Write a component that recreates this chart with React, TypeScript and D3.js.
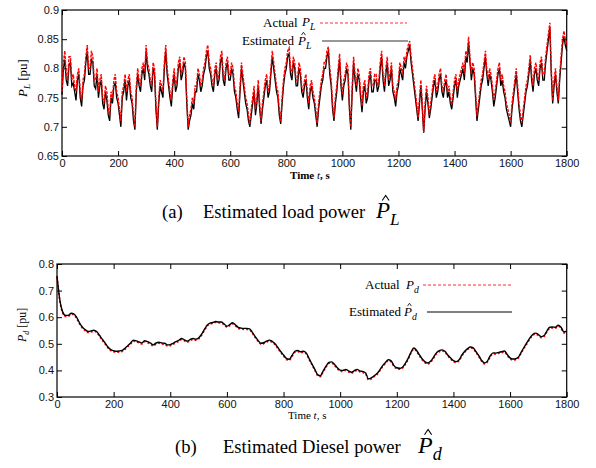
import React, { useRef, useEffect } from 'react';
import * as d3 from 'd3';

// load power, actual P_L, one sample every 5 s (0..1800), 20 samples per row
const loadActual = [
  0.76, 0.81, 0.83, 0.79, 0.78, 0.82, 0.82, 0.78, 0.79, 0.77, 0.76, 0.79, 0.80, 0.76, 0.745, 0.78, 0.79, 0.82, 0.84, 0.80,
  0.80, 0.83, 0.82, 0.78, 0.78, 0.80, 0.76, 0.78, 0.79, 0.75, 0.74, 0.77, 0.76, 0.73, 0.72, 0.76, 0.75, 0.78, 0.79, 0.76,
  0.75, 0.73, 0.71, 0.76, 0.77, 0.79, 0.76, 0.78, 0.79, 0.76, 0.75, 0.72, 0.70, 0.77, 0.80, 0.78, 0.77, 0.80, 0.81, 0.79,
  0.84, 0.81, 0.80, 0.78, 0.77, 0.81, 0.80, 0.74, 0.70, 0.75, 0.78, 0.77, 0.76, 0.81, 0.84, 0.80, 0.78, 0.76, 0.745, 0.78,
  0.80, 0.77, 0.78, 0.81, 0.82, 0.79, 0.80, 0.82, 0.81, 0.75, 0.70, 0.72, 0.73, 0.75, 0.74, 0.77, 0.77, 0.80, 0.79, 0.77,
  0.78, 0.80, 0.81, 0.83, 0.84, 0.81, 0.80, 0.78, 0.77, 0.80, 0.81, 0.78, 0.79, 0.82, 0.83, 0.79, 0.78, 0.81, 0.82, 0.79,
  0.79, 0.81, 0.80, 0.77, 0.76, 0.74, 0.725, 0.77, 0.81, 0.79, 0.77, 0.75, 0.74, 0.72, 0.705, 0.73, 0.75, 0.77, 0.73, 0.75,
  0.78, 0.74, 0.71, 0.74, 0.76, 0.78, 0.79, 0.76, 0.77, 0.80, 0.83, 0.81, 0.79, 0.77, 0.76, 0.73, 0.71, 0.75, 0.78, 0.80,
  0.81, 0.83, 0.835, 0.80, 0.79, 0.82, 0.81, 0.78, 0.78, 0.81, 0.80, 0.77, 0.76, 0.78, 0.79, 0.76, 0.74, 0.77, 0.78, 0.76,
  0.75, 0.73, 0.706, 0.74, 0.76, 0.78, 0.79, 0.81, 0.81, 0.83, 0.837, 0.80, 0.78, 0.74, 0.715, 0.75, 0.77, 0.80, 0.825, 0.78,
  0.755, 0.78, 0.79, 0.81, 0.80, 0.74, 0.70, 0.77, 0.82, 0.79, 0.77, 0.80, 0.79, 0.76, 0.735, 0.77, 0.78, 0.75, 0.76, 0.79,
  0.80, 0.77, 0.77, 0.79, 0.79, 0.77, 0.78, 0.81, 0.83, 0.79, 0.77, 0.80, 0.82, 0.78, 0.79, 0.81, 0.77, 0.76, 0.745, 0.77,
  0.78, 0.81, 0.80, 0.79, 0.82, 0.81, 0.83, 0.84, 0.847, 0.82, 0.80, 0.78, 0.76, 0.74, 0.715, 0.75, 0.78, 0.74, 0.691, 0.74,
  0.77, 0.75, 0.72, 0.74, 0.76, 0.78, 0.79, 0.76, 0.77, 0.79, 0.80, 0.77, 0.76, 0.78, 0.79, 0.76, 0.77, 0.75, 0.738, 0.76,
  0.78, 0.79, 0.76, 0.78, 0.79, 0.80, 0.81, 0.79, 0.83, 0.82, 0.854, 0.82, 0.79, 0.81, 0.80, 0.76, 0.718, 0.74, 0.76, 0.78,
  0.79, 0.81, 0.83, 0.80, 0.78, 0.80, 0.79, 0.77, 0.745, 0.76, 0.78, 0.80, 0.81, 0.78, 0.79, 0.77, 0.76, 0.74, 0.73, 0.72,
  0.707, 0.74, 0.76, 0.78, 0.80, 0.77, 0.74, 0.72, 0.707, 0.73, 0.75, 0.77, 0.78, 0.80, 0.823, 0.79, 0.77, 0.80, 0.81, 0.79,
  0.78, 0.81, 0.82, 0.79, 0.79, 0.82, 0.84, 0.86, 0.878, 0.80, 0.745, 0.78, 0.80, 0.77, 0.745, 0.79, 0.82, 0.85, 0.864, 0.85,
  0.84
];

// load power, estimated, one sample every 5 s (0..1800)
const loadEstimated = [
  0.755, 0.80, 0.815, 0.78, 0.77, 0.805, 0.81, 0.77, 0.775, 0.76, 0.745, 0.78, 0.79, 0.75, 0.735, 0.77, 0.78, 0.81, 0.83, 0.79,
  0.79, 0.815, 0.81, 0.77, 0.765, 0.79, 0.75, 0.77, 0.78, 0.74, 0.73, 0.76, 0.745, 0.72, 0.71, 0.75, 0.74, 0.77, 0.775, 0.75,
  0.74, 0.72, 0.70, 0.75, 0.76, 0.78, 0.745, 0.77, 0.78, 0.75, 0.74, 0.71, 0.695, 0.76, 0.79, 0.77, 0.76, 0.79, 0.80, 0.78,
  0.83, 0.80, 0.79, 0.77, 0.76, 0.80, 0.79, 0.73, 0.695, 0.74, 0.77, 0.76, 0.75, 0.80, 0.83, 0.79, 0.77, 0.75, 0.735, 0.77,
  0.79, 0.76, 0.77, 0.80, 0.81, 0.78, 0.79, 0.81, 0.80, 0.74, 0.695, 0.71, 0.72, 0.74, 0.73, 0.76, 0.76, 0.79, 0.78, 0.76,
  0.77, 0.79, 0.80, 0.82, 0.83, 0.80, 0.79, 0.77, 0.76, 0.79, 0.80, 0.77, 0.78, 0.81, 0.82, 0.78, 0.77, 0.80, 0.81, 0.78,
  0.78, 0.80, 0.79, 0.76, 0.75, 0.73, 0.715, 0.76, 0.80, 0.78, 0.76, 0.74, 0.73, 0.71, 0.70, 0.72, 0.74, 0.76, 0.72, 0.74,
  0.77, 0.73, 0.705, 0.73, 0.75, 0.77, 0.78, 0.75, 0.76, 0.79, 0.82, 0.80, 0.78, 0.76, 0.75, 0.72, 0.705, 0.74, 0.77, 0.79,
  0.80, 0.82, 0.825, 0.79, 0.78, 0.81, 0.80, 0.77, 0.77, 0.80, 0.79, 0.76, 0.75, 0.77, 0.78, 0.75, 0.73, 0.76, 0.77, 0.75,
  0.74, 0.72, 0.70, 0.73, 0.75, 0.77, 0.78, 0.80, 0.80, 0.82, 0.83, 0.79, 0.77, 0.73, 0.71, 0.74, 0.76, 0.79, 0.815, 0.77,
  0.745, 0.77, 0.78, 0.80, 0.79, 0.73, 0.695, 0.76, 0.81, 0.78, 0.76, 0.79, 0.78, 0.75, 0.725, 0.76, 0.77, 0.74, 0.75, 0.78,
  0.79, 0.76, 0.76, 0.78, 0.78, 0.76, 0.77, 0.80, 0.82, 0.78, 0.76, 0.79, 0.81, 0.77, 0.78, 0.80, 0.76, 0.75, 0.735, 0.76,
  0.77, 0.80, 0.79, 0.78, 0.81, 0.80, 0.82, 0.83, 0.84, 0.81, 0.79, 0.77, 0.75, 0.73, 0.71, 0.74, 0.77, 0.73, 0.69, 0.73,
  0.76, 0.74, 0.715, 0.73, 0.75, 0.77, 0.78, 0.75, 0.76, 0.78, 0.79, 0.76, 0.75, 0.77, 0.78, 0.75, 0.76, 0.74, 0.73, 0.75,
  0.77, 0.78, 0.75, 0.77, 0.78, 0.79, 0.80, 0.78, 0.82, 0.81, 0.845, 0.81, 0.78, 0.80, 0.79, 0.75, 0.71, 0.73, 0.75, 0.77,
  0.78, 0.80, 0.82, 0.79, 0.77, 0.79, 0.78, 0.76, 0.735, 0.75, 0.77, 0.79, 0.80, 0.77, 0.78, 0.76, 0.75, 0.73, 0.72, 0.71,
  0.70, 0.73, 0.75, 0.77, 0.79, 0.76, 0.73, 0.71, 0.70, 0.72, 0.74, 0.76, 0.77, 0.79, 0.815, 0.78, 0.76, 0.79, 0.80, 0.78,
  0.77, 0.80, 0.81, 0.78, 0.78, 0.81, 0.83, 0.85, 0.87, 0.79, 0.74, 0.77, 0.79, 0.76, 0.74, 0.78, 0.81, 0.84, 0.855, 0.84,
  0.83
];

// diesel power P_d, one sample every 10 s (0..1800)
const dieselPower = [
  0.755, 0.665, 0.62, 0.607, 0.607, 0.615, 0.612, 0.598, 0.578, 0.562,
  0.553, 0.546, 0.548, 0.551, 0.546, 0.532, 0.517, 0.503, 0.488, 0.478,
  0.474, 0.472, 0.473, 0.475, 0.483, 0.493, 0.503, 0.514, 0.511, 0.507,
  0.503, 0.512, 0.508, 0.503, 0.496, 0.503, 0.506, 0.503, 0.502, 0.496,
  0.497, 0.502, 0.508, 0.513, 0.52, 0.515, 0.51, 0.516, 0.52, 0.517,
  0.522, 0.535, 0.553, 0.57, 0.578, 0.58, 0.584, 0.582, 0.582, 0.575,
  0.566, 0.572, 0.579, 0.571, 0.562, 0.559, 0.558, 0.558, 0.556, 0.543,
  0.527, 0.513, 0.502, 0.504, 0.51, 0.514, 0.509, 0.5, 0.486, 0.471,
  0.458, 0.445, 0.442, 0.456, 0.472, 0.475, 0.47, 0.472, 0.466, 0.445,
  0.425, 0.405, 0.385, 0.38, 0.398, 0.416, 0.43, 0.432, 0.422, 0.41,
  0.401, 0.4, 0.404, 0.398, 0.393, 0.399, 0.404, 0.398, 0.396, 0.39,
  0.368, 0.372, 0.38, 0.388, 0.402, 0.418, 0.43, 0.44, 0.436, 0.418,
  0.41, 0.408, 0.412, 0.426, 0.445, 0.468, 0.484, 0.475, 0.458, 0.443,
  0.432, 0.428, 0.435, 0.45, 0.466, 0.474, 0.477, 0.472, 0.458, 0.447,
  0.437, 0.433, 0.44, 0.458, 0.472, 0.482, 0.488, 0.485, 0.47, 0.455,
  0.437, 0.428, 0.435, 0.455, 0.466, 0.465, 0.468, 0.47, 0.473, 0.46,
  0.447, 0.443, 0.444, 0.451, 0.47, 0.488, 0.505, 0.522, 0.535, 0.54,
  0.535, 0.527, 0.531, 0.548, 0.562, 0.563, 0.562, 0.57, 0.562, 0.545,
  0.548
];

const timeTicks = [0, 200, 400, 600, 800, 1000, 1200, 1400, 1600, 1800];
const loadTicks = [0.65, 0.7, 0.75, 0.8, 0.85, 0.9];
const dieselTicks = [0.3, 0.4, 0.5, 0.6, 0.7, 0.8];

const SERIF = '"Liberation Serif", "Times New Roman", serif';
const SANS = '"Liberation Sans", Arial, sans-serif';

type Panel = {
  left: number; right: number; top: number; bottom: number;
  yDomain: [number, number]; yTicks: number[]; tickFmt: (d: number) => string;
};

function drawFrame(g: any, p: Panel) {
  const x = d3.scaleLinear().domain([0, 1800]).range([p.left, p.right]);
  const y = d3.scaleLinear().domain(p.yDomain).range([p.bottom, p.top]);
  const tk = 5;

  // labelled left / bottom axes, plain inward ticks on the right / top
  g.append('g')
    .attr('transform', `translate(${p.left},0)`)
    .call(d3.axisLeft(y).tickValues(p.yTicks).tickSize(-tk).tickPadding(3).tickFormat(p.tickFmt as any))
    .call((s: any) => s.select('.domain').remove())
    .selectAll('text').attr('font-family', SANS).attr('font-size', 11).attr('fill', '#111');
  g.append('g')
    .attr('transform', `translate(${p.right},0)`)
    .call(d3.axisRight(y).tickValues(p.yTicks).tickSize(-tk).tickFormat(() => ''))
    .call((s: any) => s.select('.domain').remove());
  g.append('g')
    .attr('transform', `translate(0,${p.bottom})`)
    .call(d3.axisBottom(x).tickValues(timeTicks).tickSize(-tk).tickPadding(3).tickFormat(d3.format('d') as any))
    .call((s: any) => s.select('.domain').remove())
    .selectAll('text').attr('font-family', SANS).attr('font-size', 11).attr('fill', '#111');
  g.append('g')
    .attr('transform', `translate(0,${p.top})`)
    .call(d3.axisTop(x).tickValues(timeTicks).tickSize(-tk).tickFormat(() => ''))
    .call((s: any) => s.select('.domain').remove());

  g.append('rect')
    .attr('x', p.left).attr('y', p.top)
    .attr('width', p.right - p.left).attr('height', p.bottom - p.top)
    .attr('fill', 'none').attr('stroke', '#000').attr('stroke-width', 1.2);

  return { x, y };
}

// italic P with subscript, optional hat drawn as a small caret
function symbol(g: any, x: number, y: number, sub: string, size: number, hat: boolean) {
  const t = g.append('text').attr('x', x).attr('y', y)
    .attr('font-family', SERIF).attr('font-style', 'italic').attr('font-size', size);
  t.append('tspan').text('P');
  t.append('tspan').attr('dy', size * 0.3).attr('font-size', size * 0.75).text(sub);
  if (hat) {
    const cx = x + size * 0.42, top = y - size * 0.98, w = size * 0.3, h = size * 0.22;
    g.append('path')
      .attr('d', `M${cx - w / 2},${top + h}L${cx},${top}L${cx + w / 2},${top + h}`)
      .attr('fill', 'none').attr('stroke', '#000').attr('stroke-width', Math.max(0.8, size * 0.045));
  }
}

const App = () => {
  const svgRef = useRef<SVGSVGElement>(null);

  useEffect(() => {
    const svg = d3.select(svgRef.current);
    svg.selectAll('*').remove();

    // ---------- (a) load power ----------
    const pa: Panel = { left: 62, right: 566.7, top: 10, bottom: 156, yDomain: [0.65, 0.9], yTicks: loadTicks,
      tickFmt: d => String(+d.toFixed(2)) };
    const ga = svg.append('g');
    const a = drawFrame(ga, pa);

    const line5 = d3.line<number>().x((d, i) => a.x(i * 5)).y(d => a.y(d));
    ga.append('path').attr('d', line5(loadEstimated)!).attr('fill', 'none')
      .attr('stroke', '#000').attr('stroke-width', 1.3);
    ga.append('path').attr('d', line5(loadActual)!).attr('fill', 'none')
      .attr('stroke', '#ff0000').attr('stroke-width', 1.4).attr('stroke-dasharray', '3,1.2');

    // legend (a)
    ga.append('text').attr('x', 263).attr('y', 27).attr('font-family', SERIF).attr('font-size', 13).text('Actual');
    symbol(ga, 302, 26, 'L', 13, false);
    ga.append('line').attr('x1', 320).attr('x2', 407).attr('y1', 23).attr('y2', 23)
      .attr('stroke', '#ff3030').attr('stroke-width', 1).attr('stroke-dasharray', '3,2');
    ga.append('text').attr('x', 242).attr('y', 45).attr('font-family', SERIF).attr('font-size', 13).text('Estimated');
    symbol(ga, 298, 45, 'L', 13, true);
    ga.append('line').attr('x1', 322).attr('x2', 408).attr('y1', 41).attr('y2', 41)
      .attr('stroke', '#333').attr('stroke-width', 1.2);

    // axis titles (a)
    const ta = ga.append('text').attr('x', 290).attr('y', 179).attr('font-family', SERIF).attr('font-size', 11).attr('font-weight', 'bold');
    ta.append('tspan').text('Time  ');
    ta.append('tspan').attr('font-style', 'italic').attr('font-weight', 'normal').text('t');
    ta.append('tspan').text(', s');
    const ya = ga.append('text').attr('transform', 'translate(27,97) rotate(-90)')
      .attr('font-family', SERIF).attr('font-size', 13);
    ya.append('tspan').attr('font-style', 'italic').text('P');
    ya.append('tspan').attr('font-style', 'italic').attr('font-size', 9).attr('dy', 3).text('L');
    ya.append('tspan').attr('dy', -3).text(' [pu]');

    // caption (a)
    ga.append('text').attr('x', 162).attr('y', 218).attr('font-family', SERIF).attr('font-size', 18.6).text('(a)');
    ga.append('text').attr('x', 203).attr('y', 218).attr('font-family', SERIF).attr('font-size', 18.6).text('Estimated load power');
    symbol(ga, 376, 218, 'L', 23, true);

    // ---------- (b) diesel power ----------
    const pb: Panel = { left: 57, right: 566.7, top: 264, bottom: 397, yDomain: [0.3, 0.8], yTicks: dieselTicks,
      tickFmt: d => d.toFixed(1) };
    const gb = svg.append('g');
    const b = drawFrame(gb, pb);

    const lineD = d3.line<number>().x((d, i) => b.x(i * 10)).y(d => b.y(d)).curve(d3.curveMonotoneX);
    gb.append('path').attr('d', lineD(dieselPower)!).attr('fill', 'none').attr('transform', 'translate(0,1)')
      .attr('stroke', '#ff0000').attr('stroke-width', 1.6).attr('stroke-dasharray', '2,2');
    gb.append('path').attr('d', lineD(dieselPower)!).attr('fill', 'none')
      .attr('stroke', '#000').attr('stroke-width', 1.4);

    // legend (b)
    gb.append('text').attr('x', 365).attr('y', 289).attr('font-family', SERIF).attr('font-size', 13).text('Actual');
    symbol(gb, 406, 289, 'd', 13, false);
    gb.append('line').attr('x1', 423).attr('x2', 512).attr('y1', 285).attr('y2', 285)
      .attr('stroke', '#ff3030').attr('stroke-width', 1).attr('stroke-dasharray', '3,2');
    gb.append('text').attr('x', 349).attr('y', 316).attr('font-family', SERIF).attr('font-size', 13).text('Estimated');
    symbol(gb, 404, 316, 'd', 13, true);
    gb.append('line').attr('x1', 427).attr('x2', 512).attr('y1', 312).attr('y2', 312)
      .attr('stroke', '#808080').attr('stroke-width', 2);

    // axis titles (b)
    const tb = gb.append('text').attr('x', 288).attr('y', 419).attr('font-family', SERIF).attr('font-size', 11);
    tb.append('tspan').text('Time  ');
    tb.append('tspan').attr('font-style', 'italic').text('t');
    tb.append('tspan').text(', s');
    const yb = gb.append('text').attr('transform', 'translate(26,342) rotate(-90)')
      .attr('font-family', SERIF).attr('font-size', 12);
    yb.append('tspan').attr('font-style', 'italic').text('P');
    yb.append('tspan').attr('font-style', 'italic').attr('font-size', 8).attr('dy', 3).text('d');
    yb.append('tspan').attr('dy', -3).text(' [pu]');

    // caption (b)
    gb.append('text').attr('x', 175).attr('y', 453).attr('font-family', SERIF).attr('font-size', 18.6).text('(b)');
    gb.append('text').attr('x', 223).attr('y', 453).attr('font-family', SERIF).attr('font-size', 18.6).text('Estimated Diesel power');
    symbol(gb, 418, 453, 'd', 24, true);
  }, []);

  return (
    <svg ref={svgRef} width={596} height={468}
      style={{ position: 'absolute', left: 0, top: 0, background: '#fff' }} />
  );
};

export default App;
